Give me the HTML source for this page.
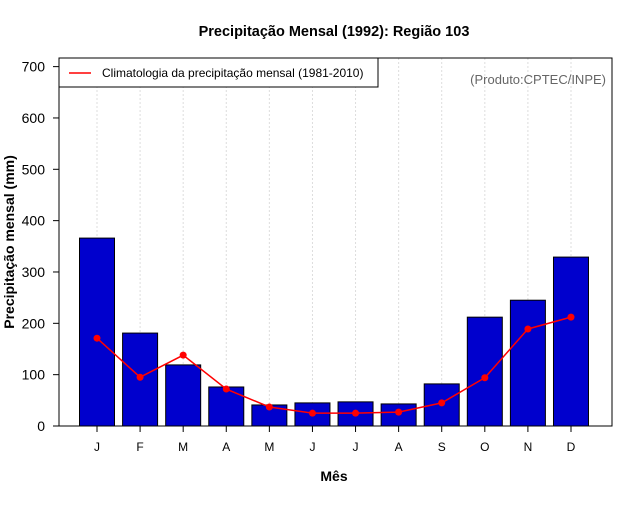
<!DOCTYPE html>
<html><head><meta charset="utf-8"><style>
body{margin:0;background:#fff;font-family:"Liberation Sans",sans-serif}
svg text{font-family:"Liberation Sans",sans-serif}
</style></head><body>
<svg width="640" height="500" xmlns="http://www.w3.org/2000/svg">
<text x="334" y="36" text-anchor="middle" font-size="14.5" font-weight="bold">Precipitação Mensal (1992): Região 103</text>
<g id="grid"></g>
<g id="bars"></g>
<g id="clim"></g>
<rect x="59" y="58" width="553" height="368" fill="none" stroke="#000"/>
<g id="yaxis"></g>
<g id="xaxis"></g>
<text transform="translate(14,242) rotate(-90)" text-anchor="middle" font-size="14" font-weight="bold">Precipitação mensal (mm)</text>
<text x="334" y="481" text-anchor="middle" font-size="14" font-weight="bold">Mês</text>
<g>
<rect x="59" y="58" width="319" height="29" fill="#fff" stroke="#000"/>
<line x1="69" y1="73" x2="91" y2="73" stroke="#f00" stroke-width="1.5"/>
<text x="102" y="77" font-size="12">Climatologia da precipitação mensal (1981-2010)</text>
</g>
<text x="606" y="84" text-anchor="end" font-size="13" fill="#666">(Produto:CPTEC/INPE)</text>
</svg>
<script>
const months=["J","F","M","A","M","J","J","A","S","O","N","D"];
const precip=[366,181,119,76,41,45,47,43,82,212,245,329];
const climatology=[171,95,138,72,37,25,25,27,45,94,189,212];
const yTicks=[0,100,200,300,400,500,600,700];
const NS="http://www.w3.org/2000/svg";
const y=v=>426-v*0.5134;
const x=i=>97+i*43.09;
function mk(t,a,p){const e=document.createElementNS(NS,t);for(const k in a)e.setAttribute(k,a[k]);p.appendChild(e);return e;}
const grid=document.getElementById('grid'),bars=document.getElementById('bars'),clim=document.getElementById('clim'),ya=document.getElementById('yaxis'),xa=document.getElementById('xaxis');
months.forEach((m,i)=>{
 const g=mk('line',{x1:x(i),x2:x(i),y1:58,y2:426,stroke:'#ddd','stroke-dasharray':'2,2'},grid);
 
 
 const b=mk('rect',{x:x(i)-17.5,y:y(precip[i]),width:35,height:426-y(precip[i]),fill:'#0000cd',stroke:'#000','stroke-width':1},bars);
 
 
 const t=mk('line',{x1:x(i),x2:x(i),y1:426,y2:432,stroke:'#000'},xa);
 
 
 const l=mk('text',{x:x(i),y:451,'text-anchor':'middle','font-size':12},xa);l.textContent=m;
 
 
});
const pl=mk('polyline',{points:climatology.map((v,i)=>x(i)+','+y(v)).join(' '),fill:'none',stroke:'#f00','stroke-width':1.5},clim);


climatology.forEach((v,i)=>{
 const c=mk('circle',{cx:x(i),cy:y(v),r:3.5,fill:'#f00'},clim);
 
 
});
yTicks.forEach(v=>{
 const t=mk('line',{x1:53,x2:59,y1:y(v),y2:y(v),stroke:'#000'},ya);
 
 
 const l=mk('text',{x:45,y:y(v)+5,'text-anchor':'end','font-size':14},ya);l.textContent=v;
 
 
});
</script>
</body></html>
